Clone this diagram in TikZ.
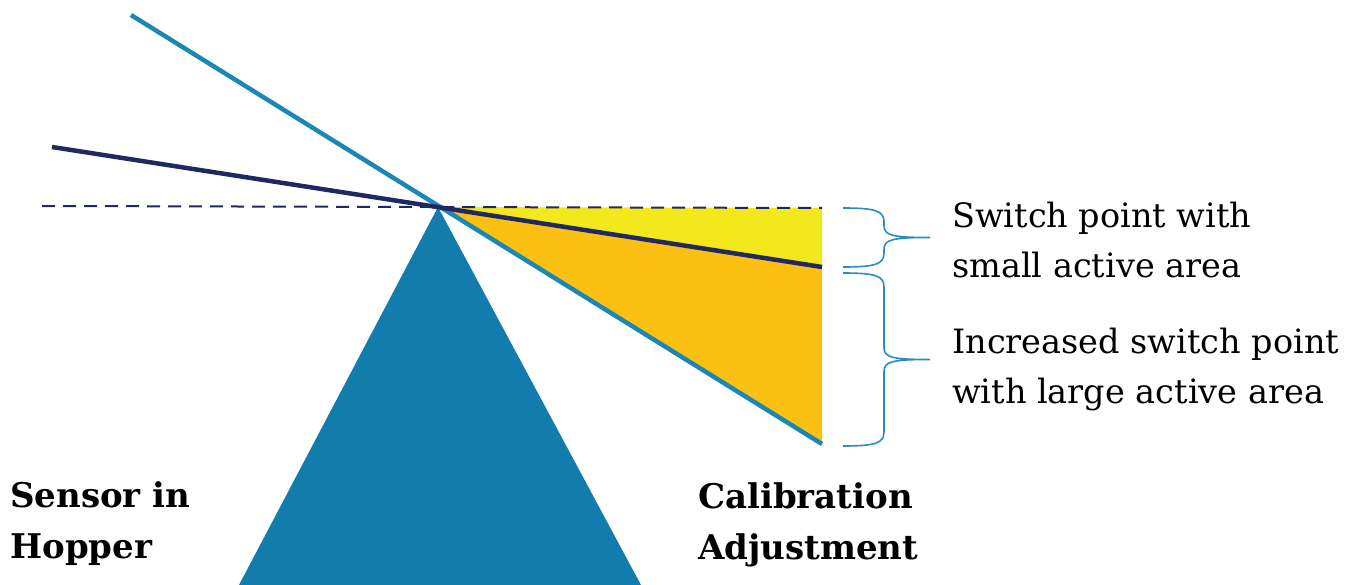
\documentclass[tikz,border=0pt]{standalone}
\usepackage{fontspec}
\setmainfont{DejaVu Serif}
\usepackage{tikz}
\usetikzlibrary{calc}
\usepackage{xcolor}

\definecolor{sensorblue}{HTML}{127CAD}
\definecolor{beamblue}{HTML}{1B87B5}
\definecolor{beamnavy}{HTML}{1F2860}
\definecolor{smallyellow}{HTML}{F2E81C}
\definecolor{largeorange}{HTML}{FBC012}
\definecolor{bracecol}{HTML}{2A8CBF}

\tikzstyle{beam} = [line width=4.5pt, line cap=butt]
\tikzstyle{level} = [line width=2pt, beamnavy, dash pattern=on 13pt off 8pt]
\tikzstyle{bracket} = [line width=1.6pt, bracecol]
\tikzstyle{note} = [anchor=base west, align=left, inner sep=0pt, font=\fontsize{33.5}{50}\selectfont]
\tikzstyle{title} = [anchor=base west, align=left, inner sep=0pt, font=\fontsize{34}{51}\selectfont\bfseries]

% curly bracket opening to the right, ends at x=843, tip at x=930
\newcommand{\sidebrace}[2]{%
  \pgfmathsetmacro{\bmid}{(#1+#2)/2}
  \draw[bracket] (843,#1) .. controls (876,#1) and (884,#1+3) .. (884,#1+14)
    -- (884,\bmid-12) .. controls (884,\bmid-2) and (892,\bmid) .. (930,\bmid)
    .. controls (892,\bmid) and (884,\bmid+2) .. (884,\bmid+12)
    -- (884,#2-14) .. controls (884,#2-3) and (876,#2) .. (843,#2);
}

\begin{document}
\begin{tikzpicture}[x=1pt,y=-1pt]
    \useasboundingbox (0,0) rectangle (1352,585);

    \coordinate (apex) at (438,207);
    \coordinate (top) at (822,208);
    \coordinate (mid) at (822,267);
    \coordinate (low) at (822,444);

    % active areas
    \fill[smallyellow] (apex) -- (top) -- (mid) -- cycle;
    \fill[largeorange] (apex) -- (mid) -- (low) -- cycle;

    % sensor body
    \fill[sensorblue] (apex) -- (641,585) -- (239,585) -- cycle;

    % detection beams
    \draw[beam, beamblue] (131,15) -- (low);
    \draw[beam, beamnavy] (52,147) -- (mid);
    \draw[level] (42,206) -- (top);

    \sidebrace{208}{267}
    \sidebrace{273}{446}

    \node (smallarea) [note] at (952,278) {Switch point with\\small active area};
    \node (largearea) [note] at (952,403) {Increased switch point\\with large active area};

    \node (sensor) [title] at (10,558) {Sensor in\\Hopper};
    \node (calib) [title] at (698,559) {Calibration\\Adjustment};

\end{tikzpicture}
\end{document}
